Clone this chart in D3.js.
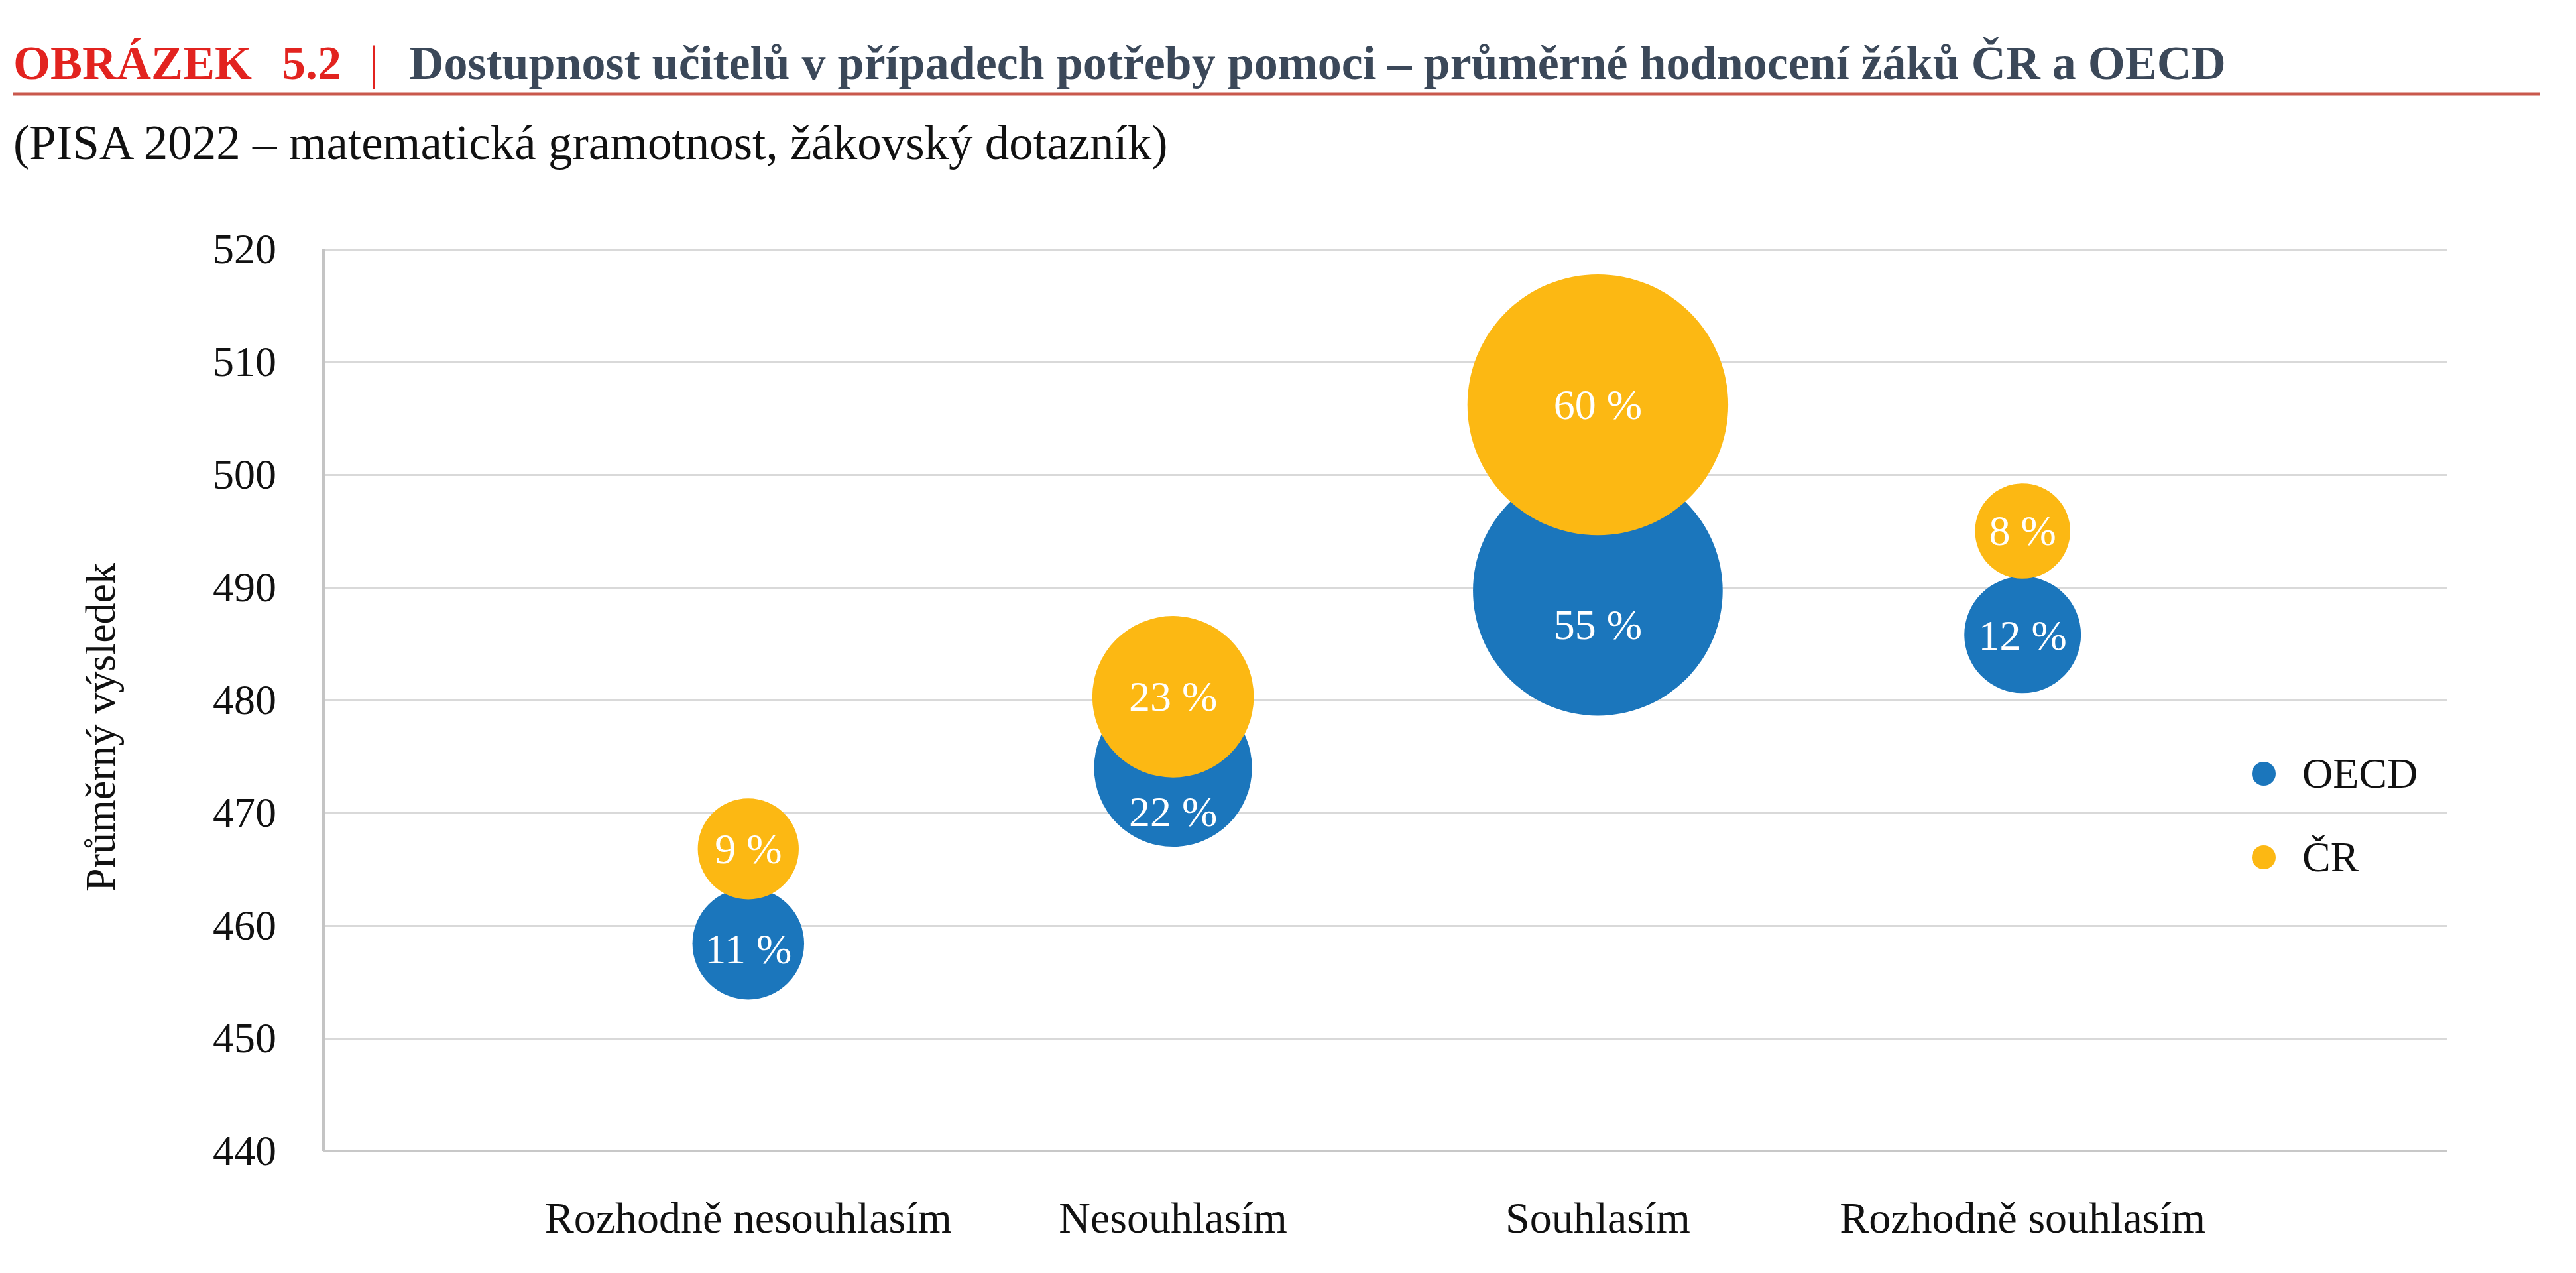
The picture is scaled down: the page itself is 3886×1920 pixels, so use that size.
<!DOCTYPE html>
<html>
<head>
<meta charset="utf-8">
<script src="https://cdn.jsdelivr.net/npm/d3@7"></script>
<style>
  body { margin: 0; background: #fff; }
  text { font-family: "Liberation Serif", "Times New Roman", serif; }
</style>
</head>
<body>
<div id="chart"></div>
<script>
// data
var categories = ["Rozhodně nesouhlasím", "Nesouhlasím", "Souhlasím", "Rozhodně souhlasím"];
var oecdScore = [458.4, 474.0, 489.7, 485.8];
var oecdShare = [11, 22, 55, 12];
var crScore = [466.8, 480.3, 506.2, 495.0];
var crShare = [9, 23, 60, 8];
var seriesNames = ["OECD", "ČR"];
var yTicks = [440, 450, 460, 470, 480, 490, 500, 510, 520];

var W = 3886, H = 1920;
var margin = { top: 376, right: 194, bottom: 184, left: 488 },
    width = W - margin.left - margin.right,
    height = H - margin.top - margin.bottom;

var colors = { "OECD": "#1b76bc", "ČR": "#fcb813" };
var fs = 64;

var svg = d3.select("#chart")
    .append("svg")
    .attr("width", W)
    .attr("height", H);

// title
var title = svg.append("text")
    .attr("x", 20)
    .attr("y", 119)
    .style("font-size", "72px")
    .style("font-weight", "bold");
title.append("tspan").attr("fill", "#e2231f").text("OBRÁZEK");
title.append("tspan").attr("fill", "#e2231f").attr("dx", 45).text("5.2");
title.append("tspan").attr("fill", "#e2231f").attr("dx", 42).style("font-weight", "normal").text("|");
title.append("tspan").attr("fill", "#3b4859").attr("dx", 46)
    .text("Dostupnost učitelů v případech potřeby pomoci – průměrné hodnocení žáků ČR a OECD");

svg.append("line")
    .attr("x1", 20).attr("x2", 3831)
    .attr("y1", 142).attr("y2", 142)
    .attr("stroke", "#c9584c")
    .attr("stroke-width", 5);

svg.append("text")
    .attr("x", 20)
    .attr("y", 240)
    .style("font-size", "73px")
    .attr("fill", "#111")
    .text("(PISA 2022 – matematická gramotnost, žákovský dotazník)");

var g = svg.append("g")
    .attr("transform", "translate(" + margin.left + "," + margin.top + ")");

// scales
var x = d3.scaleLinear().domain([0, 5]).range([0, width]);
var y = d3.scaleLinear().domain([440, 520]).range([height, 0]);
var r = d3.scaleSqrt().domain([0, 60]).range([0, 196.7]);

// gridlines
g.append("g")
    .call(d3.axisLeft(y).tickValues(yTicks).tickSize(-width).tickFormat(""))
    .call(function (a) { a.select(".domain").remove(); })
    .selectAll("line")
    .attr("stroke", "#d9d9d9")
    .attr("stroke-width", 3);

// y axis labels
var yAxis = g.append("g")
    .call(d3.axisLeft(y).tickValues(yTicks).tickSize(0).tickPadding(71));
yAxis.select(".domain").remove();
yAxis.selectAll("text")
    .style("font-size", fs + "px")
    .attr("fill", "#111");

// axis lines
g.append("line")
    .attr("x1", 0).attr("x2", 0)
    .attr("y1", 0).attr("y2", height)
    .attr("stroke", "#c4c4c4").attr("stroke-width", 4);
g.append("line")
    .attr("x1", 0).attr("x2", width)
    .attr("y1", height).attr("y2", height)
    .attr("stroke", "#c8c8c8").attr("stroke-width", 4);

// axis title
svg.append("text")
    .attr("transform", "translate(152,1097) rotate(-90)")
    .attr("text-anchor", "middle")
    .attr("dy", "0.33em")
    .style("font-size", "64px")
    .attr("fill", "#111")
    .text("Průměrný výsledek");

// category labels
g.selectAll(".cat")
    .data(categories)
    .enter().append("text")
    .attr("class", "cat")
    .attr("x", function (d, i) { return x(i + 1); })
    .attr("y", height + 123)
    .attr("text-anchor", "middle")
    .style("font-size", "66px")
    .attr("fill", "#111")
    .text(function (d) { return d; });

// bubbles
var rows = categories.map(function (c, i) {
    return { i: i, oecd: oecdScore[i], oecdPct: oecdShare[i], cr: crScore[i], crPct: crShare[i] };
});

g.selectAll(".oecd")
    .data(rows)
    .enter().append("circle")
    .attr("class", "oecd")
    .attr("cx", function (d) { return x(d.i + 1); })
    .attr("cy", function (d) { return y(d.oecd); })
    .attr("r", function (d) { return r(d.oecdPct); })
    .attr("fill", colors["OECD"]);

g.selectAll(".cr")
    .data(rows)
    .enter().append("circle")
    .attr("class", "cr")
    .attr("cx", function (d) { return x(d.i + 1); })
    .attr("cy", function (d) { return y(d.cr); })
    .attr("r", function (d) { return r(d.crPct); })
    .attr("fill", colors["ČR"]);

// labels: OECD label sits in the uncovered part of its bubble
g.selectAll(".oecd-lbl")
    .data(rows)
    .enter().append("text")
    .attr("class", "oecd-lbl")
    .attr("x", function (d) { return x(d.i + 1); })
    .attr("y", function (d) {
        var bottomO = y(d.oecd) + r(d.oecdPct);
        var bottomC = y(d.cr) + r(d.crPct);
        return (bottomO + bottomC) / 2 + fs * 0.33;
    })
    .attr("text-anchor", "middle")
    .style("font-size", fs + "px")
    .attr("fill", "#fff")
    .text(function (d) { return d.oecdPct + " %"; });

g.selectAll(".cr-lbl")
    .data(rows)
    .enter().append("text")
    .attr("class", "cr-lbl")
    .attr("x", function (d) { return x(d.i + 1); })
    .attr("y", function (d) { return y(d.cr) + fs * 0.33; })
    .attr("text-anchor", "middle")
    .style("font-size", fs + "px")
    .attr("fill", "#fff")
    .text(function (d) { return d.crPct + " %"; });

// legend
var legend = svg.selectAll(".legend")
    .data(seriesNames)
    .enter().append("g")
    .attr("class", "legend")
    .attr("transform", function (d, i) { return "translate(3415," + (1167 + i * 126) + ")"; });
legend.append("circle")
    .attr("r", 18)
    .attr("fill", function (d) { return colors[d]; });
legend.append("text")
    .attr("x", 58)
    .attr("y", 21)
    .style("font-size", fs + "px")
    .attr("fill", "#111")
    .text(function (d) { return d; });
</script>
</body>
</html>
